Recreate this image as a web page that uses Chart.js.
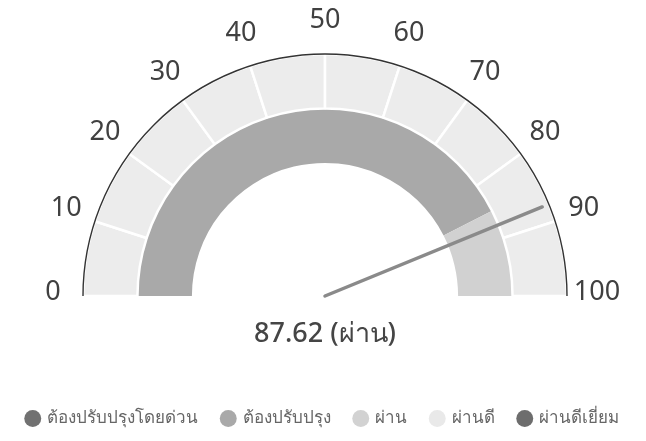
<!DOCTYPE html>
<html><head><meta charset="utf-8">
<script src="https://cdn.jsdelivr.net/npm/chart.js@4"></script>
<style>html,body{margin:0;padding:0;background:#fff;overflow:hidden}</style>
</head><body>
<canvas id="c" width="646" height="441" style="width:646px;height:441px;display:block"></canvas>
<script>
// ---- data ----
const tickValues = [0, 10, 20, 30, 40, 50, 60, 70, 80, 90, 100];
const outerSegments = [10, 10, 10, 10, 10, 10, 10, 10, 10, 10];
const innerBands = [85, 15];
const innerColors = ['#a9a9a9', '#d1d1d1'];
const gaugeValue = 87.62;
const gaugeStatus = 'ผ่าน';
const legendLabels = ['ต้องปรับปรุงโดยด่วน', 'ต้องปรับปรุง', 'ผ่าน', 'ผ่านดี', 'ผ่านดีเยี่ยม'];
const legendColors = ['#717171', '#a9a9a9', '#d2d2d2', '#e9e9e9', '#6d6d6d'];

const FONT = "'Noto Sans', 'Open Sans', 'DejaVu Sans', sans-serif";

const areaPlugin = {
  id: 'area',
  afterLayout(chart) {
    chart.chartArea = {left: 83, right: 567, top: 54, bottom: 296, width: 484, height: 242};
  }
};

const gaugePlugin = {
  id: 'gauge',
  afterDatasetsDraw(chart) {
    const arc = chart.getDatasetMeta(0).data[0];
    if (!arc) return;
    const cx = arc.x, cy = arc.y, R = arc.outerRadius;
    const ctx = chart.ctx;
    ctx.save();
    // outer outline
    ctx.beginPath();
    ctx.arc(cx, cy, R, Math.PI, 2 * Math.PI);
    ctx.strokeStyle = '#333';
    ctx.lineWidth = 1.4;
    ctx.stroke();
    // tick labels
    ctx.font = '27px ' + FONT;
    ctx.fillStyle = '#404040';
    ctx.textAlign = 'center';
    ctx.textBaseline = 'middle';
    const lr = R + 30;
    tickValues.forEach(v => {
      const t = Math.PI * (1 - v / 100);
      const c = Math.cos(t), s = Math.sin(t);
      const x = cx + lr * c;
      const y = cy - 4 - lr * s;
      ctx.fillText(String(v), x, y);
    });
    // needle
    const t = Math.PI * (1 - gaugeValue / 100);
    const L = R * 0.97;
    ctx.beginPath();
    ctx.moveTo(cx, cy);
    ctx.lineTo(cx + L * Math.cos(t), cy - L * Math.sin(t));
    ctx.strokeStyle = '#8a8a8a';
    ctx.lineWidth = 3.5;
    ctx.lineCap = 'round';
    ctx.stroke();
    // center text
    ctx.font = '500 27px ' + FONT;
    ctx.fillStyle = '#454545';
    ctx.fillText(gaugeValue.toFixed(2) + ' (' + gaugeStatus + ')', cx, cy + 38);
    ctx.restore();
  }
};

new Chart(document.getElementById('c'), {
  type: 'doughnut',
  data: {
    labels: outerSegments.map((_, i) => tickValues[i] + '-' + tickValues[i + 1]),
    datasets: [
      {data: outerSegments, backgroundColor: '#ececec', borderColor: '#ffffff', borderWidth: 2.5, hoverOffset: 0},
      {data: innerBands, backgroundColor: innerColors, borderColor: '#ffffff', borderWidth: 0, hoverOffset: 0}
    ]
  },
  options: {
    responsive: false,
    animation: false,
    devicePixelRatio: 1,
    rotation: -90,
    circumference: 180,
    radius: 242,
    cutout: '55%',
    layout: {padding: {bottom: 4}},
    plugins: {
      tooltip: {enabled: false},
      legend: {
        position: 'bottom',
        onClick: null,
        labels: {
          usePointStyle: true,
          pointStyle: 'circle',
          boxWidth: 12,
          boxHeight: 12,
          padding: 24,
          color: '#666',
          font: {size: 17, family: FONT},
          generateLabels() {
            return legendLabels.map((l, i) => ({
              text: l, fillStyle: legendColors[i], strokeStyle: legendColors[i],
              lineWidth: 0, pointStyle: 'circle', hidden: false, index: i, fontColor: '#666'
            }));
          }
        }
      }
    }
  },
  plugins: [areaPlugin, gaugePlugin]
});
</script>
</body></html>
